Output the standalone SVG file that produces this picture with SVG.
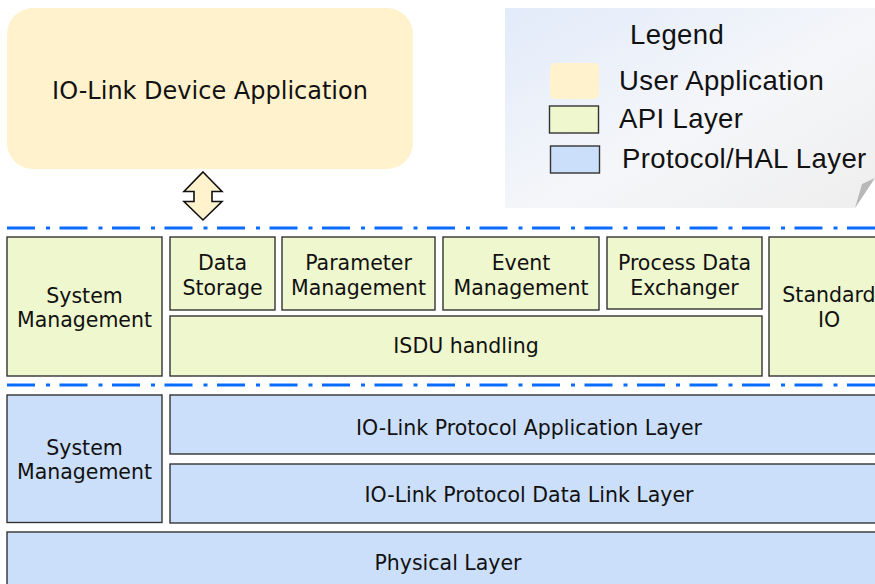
<svg xmlns="http://www.w3.org/2000/svg" width="875" height="584" viewBox="0 0 875 584">
<style>
  .t { font-family: "DejaVu Sans", Verdana, sans-serif; font-size: 20.5px; fill: #111; text-anchor: middle; }
  .lg { font-family: "Liberation Sans", Arial, sans-serif; font-size: 27.5px; letter-spacing: 0.4px; fill: #111; }
  .api { fill: #EEF7CE; stroke: #333; stroke-width: 1.4; }
  .pro { fill: #CCDFFA; stroke: #333; stroke-width: 1.4; }
  .sep { stroke: #0A6CFF; stroke-width: 3; stroke-dasharray: 28 11 4 9.5; fill: none; }
</style>
<defs>
  <linearGradient id="lgGrad" x1="0" y1="0" x2="1" y2="1">
    <stop offset="0" stop-color="#E2EBFA"/>
    <stop offset="0.55" stop-color="#F5F6F9"/>
    <stop offset="1" stop-color="#EEEEEE"/>
  </linearGradient>
</defs>
<rect width="875" height="584" fill="#FFFFFF"/>

<g id="legend">
  <path d="M505,8 H875 V178 L855,208 H505 Z" fill="url(#lgGrad)"/>
  <path d="M855,208 L862,184 L875,178 Z" fill="#B8B8B8"/>
  <text class="lg" x="630" y="44">Legend</text>
  <rect x="550" y="63" width="49" height="36" rx="5" fill="#FFF2CC"/>
  <text class="lg" x="619" y="90">User Application</text>
  <rect x="549.5" y="106" width="49" height="27" fill="#EEF7CE" stroke="#333" stroke-width="1.4"/>
  <text class="lg" x="619" y="128">API Layer</text>
  <rect x="550.5" y="146" width="49" height="27" fill="#CCDFFA" stroke="#333" stroke-width="1.4"/>
  <text class="lg" x="622" y="168">Protocol/HAL Layer</text>
</g>

<g id="user-app">
  <rect x="7" y="8" width="406" height="161" rx="26" fill="#FFF2CC"/>
  <text class="t" x="210" y="99" style="font-size:24px">IO-Link Device Application</text>
</g>

<g id="connectors">
  <path d="M203,172 L222,191.5 L212,191.5 L212,201.5 L222,201.5 L203,220 L184,201.5 L194,201.5 L194,191.5 L184,191.5 Z" fill="#FFF2CC" stroke="#111" stroke-width="1.6" stroke-linejoin="miter"/>
  <line class="sep" x1="7" y1="228" x2="875" y2="228"/>
  <line class="sep" x1="7" y1="385" x2="875" y2="385"/>
</g>

<g id="api-system-management">
  <rect class="api" x="7" y="237" width="155" height="139"/>
  <text class="t" x="84.5" y="303">System</text>
  <text class="t" x="84.5" y="327">Management</text>
</g>
<g id="data-storage">
  <rect class="api" x="170" y="237" width="105" height="73"/>
  <text class="t" x="222.5" y="270">Data</text>
  <text class="t" x="222.5" y="295">Storage</text>
</g>
<g id="parameter-management">
  <rect class="api" x="282" y="237" width="153" height="73"/>
  <text class="t" x="358.5" y="270">Parameter</text>
  <text class="t" x="358.5" y="295">Management</text>
</g>
<g id="event-management">
  <rect class="api" x="443" y="237" width="156" height="73"/>
  <text class="t" x="521" y="270">Event</text>
  <text class="t" x="521" y="295">Management</text>
</g>
<g id="process-data-exchanger">
  <rect class="api" x="607" y="237" width="155" height="72"/>
  <text class="t" x="684.5" y="270">Process Data</text>
  <text class="t" x="684.5" y="295">Exchanger</text>
</g>
<g id="isdu-handling">
  <rect class="api" x="170" y="316" width="592" height="60"/>
  <text class="t" x="466" y="353">ISDU handling</text>
</g>
<g id="standard-io">
  <rect class="api" x="769" y="237" width="125" height="139"/>
  <text class="t" x="829" y="302">Standard</text>
  <text class="t" x="829" y="327">IO</text>
</g>

<g id="protocol-system-management">
  <rect class="pro" x="7" y="395" width="155" height="127.5"/>
  <text class="t" x="84.5" y="455">System</text>
  <text class="t" x="84.5" y="479">Management</text>
</g>
<g id="protocol-application-layer">
  <rect class="pro" x="170" y="395" width="725" height="59"/>
  <text class="t" x="529" y="435">IO-Link Protocol Application Layer</text>
</g>
<g id="protocol-data-link-layer">
  <rect class="pro" x="170" y="464" width="725" height="59"/>
  <text class="t" x="529" y="502">IO-Link Protocol Data Link Layer</text>
</g>
<g id="physical-layer">
  <rect class="pro" x="7" y="532" width="890" height="60"/>
  <text class="t" x="448" y="570">Physical Layer</text>
</g>
</svg>
